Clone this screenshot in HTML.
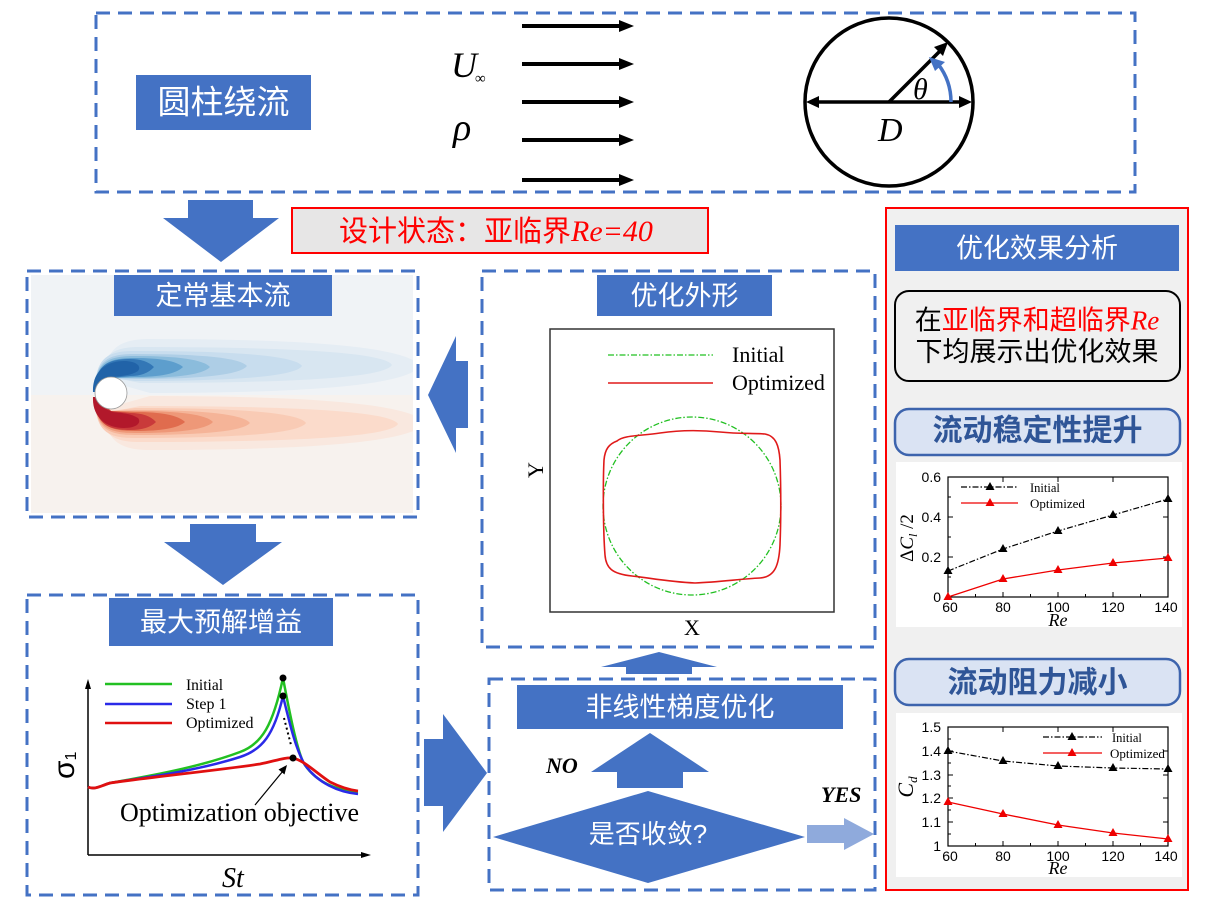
<!DOCTYPE html>
<html><head><meta charset="utf-8"><style>
html,body{margin:0;padding:0;background:#fff;}
svg{display:block;}
.cjk{font-family:"Liberation Sans","Noto Sans CJK SC",sans-serif;}
.ser{font-family:"Liberation Serif",serif;}
.sans{font-family:"Liberation Sans",sans-serif;}
</style></head><body>
<svg width="1212" height="909" viewBox="0 0 1212 909" xmlns="http://www.w3.org/2000/svg">
<defs>
<clipPath id="flowclip"><rect x="31" y="275" width="382" height="238"/></clipPath>
</defs>

<!-- ===== Top panel ===== -->
<rect x="96" y="13" width="1039" height="179" fill="none" stroke="#4472C4" stroke-width="3" stroke-dasharray="14 8"/>
<rect x="136" y="75" width="175" height="55" fill="#4472C4"/>
<text class="cjk" x="223.5" y="113.5" font-size="33" fill="#fff" text-anchor="middle">圆柱绕流</text>

<text class="ser" x="451" y="77" font-size="36" font-style="italic">U</text>
<text class="ser" x="475" y="83" font-size="15">∞</text>
<text class="ser" x="453" y="140" font-size="38" font-style="italic">ρ</text>

<g stroke="#000" stroke-width="4">
<line x1="522" y1="26" x2="622" y2="26"/>
<line x1="522" y1="64" x2="622" y2="64"/>
<line x1="522" y1="102" x2="622" y2="102"/>
<line x1="522" y1="140" x2="622" y2="140"/>
<line x1="522" y1="180" x2="622" y2="180"/>
</g>
<g fill="#000">
<polygon points="619,20 634,26 619,32"/>
<polygon points="619,58 634,64 619,70"/>
<polygon points="619,96 634,102 619,108"/>
<polygon points="619,134 634,140 619,146"/>
<polygon points="619,174 634,180 619,186"/>
</g>

<circle cx="889" cy="102" r="84" fill="none" stroke="#000" stroke-width="3.5"/>
<line x1="815" y1="102" x2="963" y2="102" stroke="#000" stroke-width="3.5"/>
<polygon points="806,102 819,96 819,108" fill="#000"/>
<polygon points="972,102 959,96 959,108" fill="#000"/>
<line x1="889" y1="102" x2="940" y2="51" stroke="#000" stroke-width="3.5"/>
<polygon points="948,42 943,56 934,47" fill="#000"/>
<path d="M 951,102 A 62 62 0 0 0 938,64" fill="none" stroke="#4472C4" stroke-width="3.5"/>
<polygon points="929,57 945,62 935,71" fill="#4472C4"/>
<text class="ser" x="913" y="99" font-size="30" font-style="italic">θ</text>
<text class="ser" x="878" y="141" font-size="34" font-style="italic">D</text>

<!-- down arrow 1 -->
<polygon points="188,200 253,200 253,218 279,218 221,262 163,218 188,218" fill="#4472C4"/>
<!-- design state box -->
<rect x="292" y="208" width="416" height="45" fill="#e7e6e6" stroke="#ff0000" stroke-width="2"/>
<text class="cjk" x="339" y="241" font-size="29" fill="#ff0000">设计状态：亚临界<tspan class="ser" font-style="italic" font-size="30">Re=40</tspan></text>

<!-- ===== Flow panel ===== -->
<g clip-path="url(#flowclip)">
<rect x="31" y="275" width="382" height="120" fill="#f0f3f6"/>
<rect x="31" y="395" width="382" height="118" fill="#f7f2ee"/>
<!-- blue wake -->
<g>
<path d="M 106,380 C 104,348 120,339 150,339 Q 403,339 420,366 Q 403,393 150,393 L 125,386 Z" fill="#e5edf4"/>
<path d="M 100,385 C 99,354 114,347 140,347 Q 382,347 392,365 Q 382,383 140,383 L 115,378 Z" fill="#d8e6f1"/>
<path d="M 95,392 C 95,357 108,351 135,351 Q 292,351 302,366 Q 292,381 135,381 L 111,378 Z" fill="#c8ddee"/>
<path d="M 95,392 C 95,360 108,354 135,354 Q 237,354 247,366 Q 237,379 135,379 L 111,378 Z" fill="#aecee6"/>
<path d="M 95,392 C 95,362 108,356 135,356 Q 200,356 210,367 Q 200,378 135,378 L 111,378 Z" fill="#8bbcdc"/>
<path d="M 95,392 C 95,364 108,358 135,358 Q 173,358 183,367 Q 173,377 135,377 L 111,378 Z" fill="#5d9ecd"/>
<path d="M 95,392 C 95,365 108,359 130,359 Q 146,359 154,367 Q 146,376 130,376 L 111,378 Z" fill="#3377b6"/>
<path d="M 93,392 C 92,372 106,361 124,361 C 136,361 142,366 138,371 C 130,376 120,376 113,377 C 104,380 97,385 95,392 Z" fill="#2163a8"/>
</g>
<!-- red wake (mirrored) -->
<g transform="translate(0,789) scale(1,-1)">
<path d="M 106,380 C 104,348 120,339 150,339 Q 408,339 425,366 Q 408,393 150,393 L 125,386 Z" fill="#f9e8df"/>
<path d="M 100,385 C 99,354 114,347 140,347 Q 388,347 398,365 Q 388,383 140,383 L 115,378 Z" fill="#fbdbcb"/>
<path d="M 95,392 C 95,357 108,351 135,351 Q 296,351 306,366 Q 296,381 135,381 L 111,378 Z" fill="#f9cbb5"/>
<path d="M 95,392 C 95,360 108,354 135,354 Q 240,354 250,366 Q 240,379 135,379 L 111,378 Z" fill="#f5b498"/>
<path d="M 95,392 C 95,362 108,356 135,356 Q 203,356 213,367 Q 203,378 135,378 L 111,378 Z" fill="#ee9878"/>
<path d="M 95,392 C 95,364 108,358 135,358 Q 175,358 185,367 Q 175,377 135,377 L 111,378 Z" fill="#e06c4e"/>
<path d="M 95,392 C 95,365 108,359 130,359 Q 148,359 156,367 Q 148,376 130,376 L 111,378 Z" fill="#c93a3a"/>
<path d="M 93,392 C 92,372 106,361 124,361 C 136,361 142,366 138,371 C 130,376 120,376 113,377 C 104,380 97,385 95,392 Z" fill="#b2182b"/>
</g>
<circle cx="111" cy="393" r="16" fill="#fff" stroke="#9a9a9a" stroke-width="0.8"/>
</g>
<rect x="27" y="271" width="391" height="246" fill="none" stroke="#4472C4" stroke-width="3" stroke-dasharray="14 8"/>
<rect x="114" y="275" width="218" height="41" fill="#4472C4"/>
<text class="cjk" x="223" y="305" font-size="27" fill="#fff" text-anchor="middle">定常基本流</text>

<!-- left arrow -->
<polygon points="428,395 456,336 456,361 468,361 468,428 456,428 456,453" fill="#4472C4"/>
<!-- down arrow 2 -->
<polygon points="190,524 256,524 256,542 282,542 223,585 164,542 190,542" fill="#4472C4"/>

<!-- ===== Bottom-left panel ===== -->
<rect x="27" y="595" width="391" height="300" fill="none" stroke="#4472C4" stroke-width="3" stroke-dasharray="14 8"/>
<rect x="109" y="598" width="224" height="48" fill="#4472C4"/>
<text class="cjk" x="221" y="631.5" font-size="27" fill="#fff" text-anchor="middle">最大预解增益</text>

<line x1="88" y1="684" x2="88" y2="855" stroke="#000" stroke-width="1.5"/>
<line x1="88" y1="855" x2="366" y2="855" stroke="#000" stroke-width="1.5"/>
<polygon points="88,679 85,689 91,689" fill="#000"/>
<polygon points="371,855 361,852 361,858" fill="#000"/>
<text class="sans" transform="translate(74,779) rotate(-90)" font-size="30">σ<tspan font-size="16" dy="2">1</tspan></text>
<text class="ser" x="222" y="887" font-size="28" font-style="italic">St</text>

<line x1="105" y1="684" x2="172" y2="684" stroke="#22c022" stroke-width="2.5"/>
<line x1="105" y1="704" x2="172" y2="704" stroke="#2a2ae8" stroke-width="2.5"/>
<line x1="105" y1="723" x2="172" y2="723" stroke="#e01010" stroke-width="2.5"/>
<text class="ser" x="186" y="690" font-size="15.5">Initial</text>
<text class="ser" x="186" y="709" font-size="16">Step 1</text>
<text class="ser" x="186" y="728" font-size="16">Optimized</text>

<path d="M 88,787 C 95,790 100,786 110,783 C 150,776 200,767 240,752 C 262,744 273,725 283,678 C 290,715 296,745 303,762 C 315,782 335,790 358,792" fill="none" stroke="#22c022" stroke-width="2.5"/>
<path d="M 88,787 C 95,790 100,786 110,783 C 150,777 200,770 240,757 C 262,750 274,735 283,696 C 290,725 296,750 305,765 C 318,783 338,792 358,794" fill="none" stroke="#2a2ae8" stroke-width="2.5"/>
<path d="M 88,787 C 95,790 100,786 110,783 C 160,776 220,770 260,764 C 275,761 285,757 293,758 C 305,761 315,772 330,782 C 340,787 350,790 358,791" fill="none" stroke="#e01010" stroke-width="2.8"/>
<circle cx="283" cy="678" r="3.5" fill="#000"/>
<circle cx="283" cy="696" r="3.5" fill="#000"/>
<circle cx="293" cy="758" r="3.5" fill="#000"/>
<line x1="284" y1="718" x2="291" y2="745" stroke="#000" stroke-width="2" stroke-dasharray="2 3"/>
<line x1="255" y1="805" x2="283" y2="771" stroke="#000" stroke-width="1.2"/>
<polygon points="287,765 284.5,774.5 278.5,769.5" fill="#000"/>
<text class="ser" x="120" y="821" font-size="26">Optimization objective</text>

<!-- right arrow -->
<polygon points="424,739 443,739 443,714 487,773 443,832 443,806 424,806" fill="#4472C4"/>

<!-- ===== Middle top panel ===== -->
<rect x="482" y="271" width="393" height="376" fill="none" stroke="#4472C4" stroke-width="3" stroke-dasharray="14 8"/>
<rect x="597" y="275" width="175" height="41" fill="#4472C4"/>
<text class="cjk" x="684.5" y="305" font-size="27" fill="#fff" text-anchor="middle">优化外形</text>
<rect x="550" y="329" width="284" height="283" fill="#fff" stroke="#333" stroke-width="1.5"/>
<line x1="608" y1="355" x2="713" y2="355" stroke="#22c022" stroke-width="1.3" stroke-dasharray="6 2 1.5 2"/>
<line x1="608" y1="383" x2="713" y2="383" stroke="#e01a1a" stroke-width="1.5"/>
<text class="ser" x="732" y="362" font-size="22">Initial</text>
<text class="ser" x="732" y="390" font-size="22">Optimized</text>
<circle cx="692" cy="506" r="89" fill="none" stroke="#22c022" stroke-width="1.3" stroke-dasharray="6 2 1.5 2"/>
<path d="M 617,441 C 624,435 640,436 660,433 C 680,430 700,430 720,432 C 740,434 752,433 765,434 C 776,436 779,446 780,460 C 781,490 781,520 780,545 C 779,565 775,577 760,578 C 740,579 720,582 695,583 C 670,582 650,578 632,576 C 612,574 606,568 605,555 C 603,530 603,480 604,460 C 605,449 609,444 617,441 Z" fill="none" stroke="#e01a1a" stroke-width="1.6"/>
<text class="ser" transform="translate(543,470) rotate(-90)" font-size="22" text-anchor="middle">Y</text>
<text class="ser" x="692" y="635" font-size="22" text-anchor="middle">X</text>

<!-- up arrow between middle panels -->
<polygon points="659,652 717,667 692,667 692,674 626,674 626,667 601,667" fill="#4472C4"/>

<!-- ===== Middle bottom panel ===== -->
<rect x="489" y="679" width="386" height="211" fill="none" stroke="#4472C4" stroke-width="3" stroke-dasharray="14 8"/>
<rect x="517" y="685" width="326" height="44" fill="#4472C4"/>
<text class="cjk" x="680" y="716.5" font-size="27" fill="#fff" text-anchor="middle">非线性梯度优化</text>
<polygon points="650,733 709,772 683,772 683,788 617,788 617,772 591,772" fill="#4472C4"/>
<text class="ser" x="546" y="773" font-size="22" font-weight="bold" font-style="italic">NO</text>
<polygon points="493,837 648,791 805,837 648,883" fill="#4472C4"/>
<text class="cjk" x="648" y="843" font-size="26" fill="#fff" text-anchor="middle">是否收敛?</text>
<text class="ser" x="821" y="802" font-size="22" font-weight="bold" font-style="italic">YES</text>
<polygon points="807,825 844,825 844,818 874,834 844,850 844,843 807,843" fill="#8faadc"/>

<!-- ===== Right panel ===== -->
<rect x="886" y="208" width="302" height="682" fill="#f0f0f0" stroke="#ff0000" stroke-width="2"/>
<rect x="895" y="225" width="284" height="46" fill="#4472C4"/>
<text class="cjk" x="1037" y="257.5" font-size="27" fill="#fff" text-anchor="middle">优化效果分析</text>
<rect x="895" y="291" width="285" height="90" rx="14" ry="14" fill="none" stroke="#000" stroke-width="2"/>
<text class="cjk" x="1037" y="329.5" font-size="27" text-anchor="middle">在<tspan fill="#ff0000">亚临界和超临界</tspan><tspan class="ser" fill="#ff0000" font-style="italic">Re</tspan></text>
<text class="cjk" x="1037" y="361" font-size="27" text-anchor="middle">下均展示出优化效果</text>

<rect x="895" y="409" width="285" height="46" rx="14" ry="14" fill="#dae3f3" stroke="#3d64ad" stroke-width="2.5"/>
<text class="cjk" x="1037.5" y="440.5" font-size="30" fill="#2f5597" text-anchor="middle" font-weight="bold">流动稳定性提升</text>

<!-- chart 1 -->
<rect x="896" y="462" width="286" height="165" fill="#fff"/>
<rect x="948" y="477" width="220" height="120" fill="none" stroke="#000" stroke-width="1.2"/>
<g stroke="#000" stroke-width="1">
<line x1="948" y1="557" x2="953" y2="557"/><line x1="948" y1="517" x2="953" y2="517"/>
<line x1="948" y1="577" x2="951" y2="577"/><line x1="948" y1="537" x2="951" y2="537"/><line x1="948" y1="497" x2="951" y2="497"/>
<line x1="1168" y1="557" x2="1163" y2="557"/><line x1="1168" y1="517" x2="1163" y2="517"/>
<line x1="1003" y1="597" x2="1003" y2="592"/><line x1="1058" y1="597" x2="1058" y2="592"/><line x1="1113" y1="597" x2="1113" y2="592"/>
<line x1="975.5" y1="597" x2="975.5" y2="594"/><line x1="1030.5" y1="597" x2="1030.5" y2="594"/><line x1="1085.5" y1="597" x2="1085.5" y2="594"/><line x1="1140.5" y1="597" x2="1140.5" y2="594"/>
<line x1="1003" y1="477" x2="1003" y2="482"/><line x1="1058" y1="477" x2="1058" y2="482"/><line x1="1113" y1="477" x2="1113" y2="482"/>
</g>
<g class="sans" font-size="14" text-anchor="end">
<text x="941" y="602">0</text><text x="941" y="562">0.2</text><text x="941" y="522">0.4</text><text x="941" y="482">0.6</text>
</g>
<g class="sans" font-size="14" text-anchor="middle">
<text x="950" y="612">60</text><text x="1003" y="612">80</text><text x="1058" y="612">100</text><text x="1113" y="612">120</text><text x="1166" y="612">140</text>
</g>
<text class="ser" x="1058" y="626" font-size="18" font-style="italic" text-anchor="middle">Re</text>
<text class="ser" transform="translate(913,538) rotate(-90)" font-size="19" text-anchor="middle">Δ<tspan font-style="italic">C</tspan><tspan font-size="12" font-style="italic" dy="4">l</tspan><tspan dy="-4"> /2</tspan></text>
<polyline points="948,571 1003,549 1058,531 1113,515 1168,499" fill="none" stroke="#000" stroke-width="1.2" stroke-dasharray="6 2 1.5 2"/>
<polyline points="948,597 1003,579 1058,570 1113,563 1168,558" fill="none" stroke="#e00" stroke-width="1.3"/>
<g fill="#000">
<polygon points="948,566 943.5,574 952.5,574"/><polygon points="1003,544 998.5,552 1007.5,552"/><polygon points="1058,526 1053.5,534 1062.5,534"/><polygon points="1113,510 1108.5,518 1117.5,518"/><polygon points="1168,494 1163.5,502 1172.5,502"/>
</g>
<g fill="#e00">
<polygon points="948,592 943.5,600 952.5,600"/><polygon points="1003,574 998.5,582 1007.5,582"/><polygon points="1058,565 1053.5,573 1062.5,573"/><polygon points="1113,558 1108.5,566 1117.5,566"/><polygon points="1168,553 1163.5,561 1172.5,561"/>
</g>
<line x1="961" y1="487" x2="1018" y2="487" stroke="#000" stroke-width="1.2" stroke-dasharray="6 2 1.5 2"/>
<polygon points="990,482 985.5,490 994.5,490" fill="#000"/>
<line x1="961" y1="503" x2="1018" y2="503" stroke="#e00" stroke-width="1.3"/>
<polygon points="990,498 985.5,506 994.5,506" fill="#e00"/>
<text class="ser" x="1030" y="492" font-size="12.5">Initial</text>
<text class="ser" x="1030" y="508" font-size="13">Optimized</text>

<rect x="895" y="659" width="285" height="46" rx="14" ry="14" fill="#dae3f3" stroke="#3d64ad" stroke-width="2.5"/>
<text class="cjk" x="1037.5" y="692.5" font-size="30" fill="#2f5597" text-anchor="middle" font-weight="bold">流动阻力减小</text>

<!-- chart 2 -->
<rect x="896" y="713" width="286" height="164" fill="#fff"/>
<rect x="948" y="727" width="220" height="119" fill="none" stroke="#000" stroke-width="1.2"/>
<g stroke="#000" stroke-width="1">
<line x1="948" y1="822" x2="953" y2="822"/><line x1="948" y1="798" x2="953" y2="798"/><line x1="948" y1="775" x2="953" y2="775"/><line x1="948" y1="751" x2="953" y2="751"/>
<line x1="948" y1="834" x2="951" y2="834"/><line x1="948" y1="810" x2="951" y2="810"/><line x1="948" y1="786" x2="951" y2="786"/><line x1="948" y1="763" x2="951" y2="763"/><line x1="948" y1="739" x2="951" y2="739"/>
<line x1="1168" y1="822" x2="1163" y2="822"/><line x1="1168" y1="798" x2="1163" y2="798"/><line x1="1168" y1="775" x2="1163" y2="775"/><line x1="1168" y1="751" x2="1163" y2="751"/>
<line x1="1003" y1="846" x2="1003" y2="841"/><line x1="1058" y1="846" x2="1058" y2="841"/><line x1="1113" y1="846" x2="1113" y2="841"/>
<line x1="975.5" y1="846" x2="975.5" y2="843"/><line x1="1030.5" y1="846" x2="1030.5" y2="843"/><line x1="1085.5" y1="846" x2="1085.5" y2="843"/><line x1="1140.5" y1="846" x2="1140.5" y2="843"/>
<line x1="1003" y1="727" x2="1003" y2="732"/><line x1="1058" y1="727" x2="1058" y2="732"/><line x1="1113" y1="727" x2="1113" y2="732"/>
</g>
<g class="sans" font-size="14" text-anchor="end">
<text x="941" y="851">1</text><text x="941" y="827">1.1</text><text x="941" y="803">1.2</text><text x="941" y="780">1.3</text><text x="941" y="756">1.4</text><text x="941" y="732">1.5</text>
</g>
<g class="sans" font-size="14" text-anchor="middle">
<text x="950" y="861">60</text><text x="1003" y="861">80</text><text x="1058" y="861">100</text><text x="1113" y="861">120</text><text x="1166" y="861">140</text>
</g>
<text class="ser" x="1058" y="874" font-size="18" font-style="italic" text-anchor="middle">Re</text>
<text class="ser" transform="translate(913,787) rotate(-90)" font-size="22" font-style="italic" text-anchor="middle">C<tspan font-size="13" dy="4">d</tspan></text>
<polyline points="948,751 1003,761 1058,766 1113,768 1168,769" fill="none" stroke="#000" stroke-width="1.2" stroke-dasharray="6 2 1.5 2"/>
<polyline points="948,802 1003,814 1058,825 1113,833 1168,839" fill="none" stroke="#e00" stroke-width="1.3"/>
<g fill="#000">
<polygon points="948,746 943.5,754 952.5,754"/><polygon points="1003,756 998.5,764 1007.5,764"/><polygon points="1058,761 1053.5,769 1062.5,769"/><polygon points="1113,763 1108.5,771 1117.5,771"/><polygon points="1168,764 1163.5,772 1172.5,772"/>
</g>
<g fill="#e00">
<polygon points="948,797 943.5,805 952.5,805"/><polygon points="1003,809 998.5,817 1007.5,817"/><polygon points="1058,820 1053.5,828 1062.5,828"/><polygon points="1113,828 1108.5,836 1117.5,836"/><polygon points="1168,834 1163.5,842 1172.5,842"/>
</g>
<line x1="1043" y1="737" x2="1102" y2="737" stroke="#000" stroke-width="1.2" stroke-dasharray="6 2 1.5 2"/>
<polygon points="1072,732 1067.5,740 1076.5,740" fill="#000"/>
<line x1="1043" y1="753" x2="1102" y2="753" stroke="#e00" stroke-width="1.3"/>
<polygon points="1072,748 1067.5,756 1076.5,756" fill="#e00"/>
<text class="ser" x="1112" y="742" font-size="12.5">Initial</text>
<text class="ser" x="1110" y="758" font-size="13">Optimized</text>
</svg>
</body></html>
